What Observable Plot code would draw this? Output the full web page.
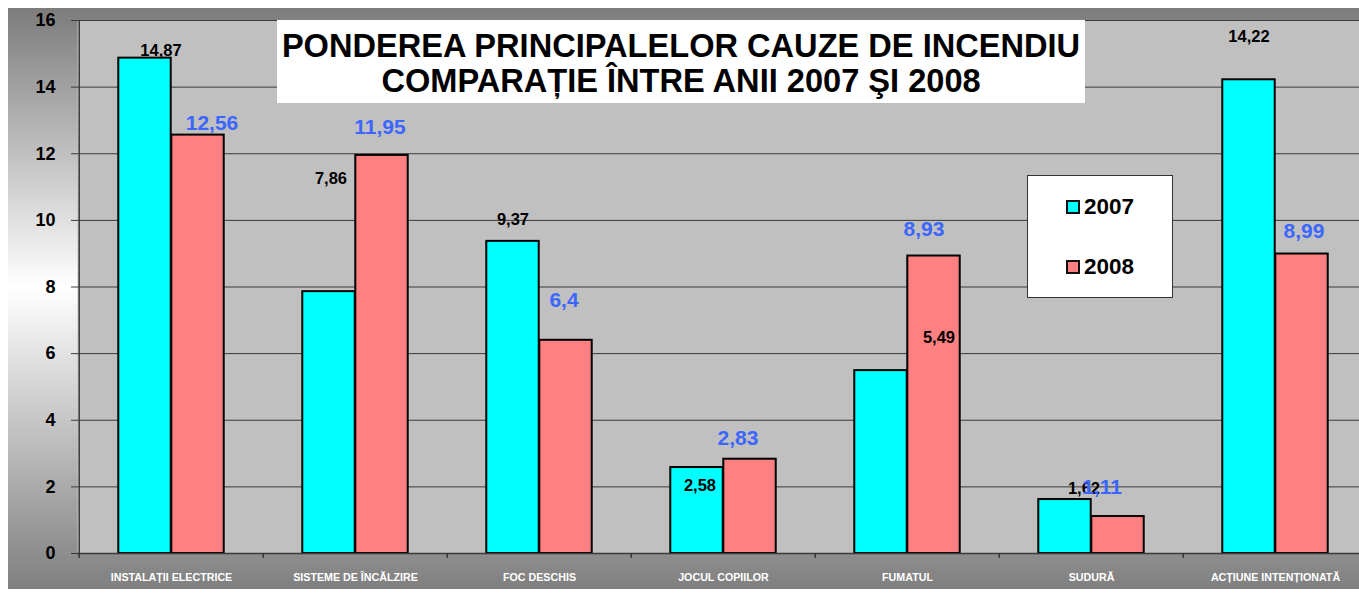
<!DOCTYPE html>
<html><head><meta charset="utf-8">
<script src="https://cdn.jsdelivr.net/npm/d3@7"></script>
<script src="https://cdn.jsdelivr.net/npm/@observablehq/plot@0.6"></script>
<style>
html,body{margin:0;padding:0;background:#fff;overflow:hidden;}
#wrap{position:relative;width:1359px;height:593px;overflow:hidden;font-family:"Liberation Sans",Arial,sans-serif;}
#bg{position:absolute;left:8px;top:8px;width:1351px;height:581px;background:linear-gradient(to bottom,#7c7c7c 0%,#ffffff 48%,#7f7f7f 100%);}
#chart{position:absolute;left:0;top:0;}
#chart svg{overflow:hidden;}
#title{position:absolute;left:277px;top:20px;width:808px;height:83px;background:#fff;text-align:center;font-weight:bold;font-size:32.6px;line-height:35px;padding-top:8px;box-sizing:border-box;color:#000;white-space:nowrap;}
#legend{position:absolute;left:1027px;top:175px;width:146px;height:123px;background:#fff;border:1px solid #333;box-sizing:border-box;}
.li{position:absolute;left:38px;height:24px;display:flex;align-items:center;font-weight:bold;font-size:22.5px;color:#000;}
.sw{width:10px;height:10px;border:2px solid #111;margin-right:4px;}
</style></head>
<body>
<div id="wrap">
  <div id="bg"></div>
  <div id="chart"></div>
  <div id="title"></div>
  <div id="legend"></div>
</div>
<script>
// ---- data ----
const categories = ["INSTALAȚII ELECTRICE","SISTEME DE ÎNCĂLZIRE","FOC DESCHIS","JOCUL COPIILOR","FUMATUL","SUDURĂ","ACȚIUNE INTENȚIONATĂ"];
const years = ["2007","2008"];
const values2007 = [14.87, 7.86, 9.37, 2.58, 5.49, 1.62, 14.22];
const values2008 = [12.56, 11.95, 6.4, 2.83, 8.93, 1.11, 8.99];
const yTicks = [0, 2, 4, 6, 8, 10, 12, 14, 16];
const titleLines = ["PONDEREA PRINCIPALELOR CAUZE DE INCENDIU", "COMPARAȚIE ÎNTRE ANII 2007 ŞI 2008"];

// ---- layout / style ----
const colors = ["#00ffff", "#ff8080"];
const labelColors = ["#000000", "#3b66ff"];
const labelSizes = [16.5, 21];
// pixel nudges of the value labels (as placed in the original)
const nudge2007 = [[16,-7],[2,-113],[0,-22],[3,18],[58,-33],[19,-11],[0,-43]];
const nudge2008 = [[14,-12],[-2,-28],[-2,-40],[-12,-21],[-10,-27],[-16,-29],[2,-23]];

const W = 1359, H = 593, mL = 77, mR = -10, mT = 20, mB = 40;
const bw = (W - mL - mR) / categories.length;
const barW = 53;
const gap = (bw - 2 * barW) / 2;
const fmt = v => String(v).replace(".", ",");

const rows = [];
categories.forEach((c, i) => {
  rows.push({cat: c, year: years[0], value: values2007[i], nd: nudge2007[i], s: 0});
  rows.push({cat: c, year: years[1], value: values2008[i], nd: nudge2008[i], s: 1});
});

const labelMarks = rows.map(r => Plot.text([r], {
  x: "cat", y: "value", text: d => fmt(d.value),
  dx: (r.s === 0 ? -barW/2 : barW/2) + r.nd[0], dy: r.nd[1],
  fill: labelColors[r.s], fontSize: labelSizes[r.s], fontWeight: "bold"
}));

const plot = Plot.plot({
  width: W, height: H,
  marginLeft: mL, marginRight: mR, marginTop: mT, marginBottom: mB,
  style: {background: "transparent", fontFamily: "'Liberation Sans', Arial, sans-serif", overflow: "hidden"},
  x: {type: "band", domain: categories, padding: 0},
  y: {domain: [0, 16]},
  marks: [
    Plot.frame({fill: "#c0c0c0", stroke: null}),
    Plot.ruleY(yTicks.filter(v => v > 0), {stroke: "#3a3a3a", strokeWidth: 1}),
    Plot.barY(rows.filter(r => r.s === 0), {x: "cat", y: "value", fill: colors[0], stroke: "#000", strokeWidth: 2, insetLeft: gap, insetRight: gap + barW}),
    Plot.barY(rows.filter(r => r.s === 1), {x: "cat", y: "value", fill: colors[1], stroke: "#000", strokeWidth: 2, insetLeft: gap + barW, insetRight: gap}),
    Plot.ruleY([0], {stroke: "#3a3a3a", strokeWidth: 1.5}),
    Plot.ruleX([categories[0]], {x: d => d, dx: -bw/2, stroke: "#3a3a3a", strokeWidth: 1.5}),
    Plot.ruleX(categories, {x: d => d, dx: -bw/2, y1: 0, y2: 0, insetBottom: -5, stroke: "#3a3a3a", strokeWidth: 1.5}),
    ...labelMarks,
    Plot.axisY({ticks: yTicks, tickSize: 6, tickPadding: 16, fontSize: 18, fontWeight: "bold", fill: "#000", stroke: "#3a3a3a", label: null}),
    Plot.axisX({tickSize: 0, tickPadding: 20, fontSize: 10.7, fontWeight: "bold", fill: "#fff", label: null})
  ]
});
document.getElementById("chart").appendChild(plot);

// title
const t = document.getElementById("title");
titleLines.forEach(l => { const d = document.createElement("div"); d.textContent = l; t.appendChild(d); });

// legend
const lg = document.getElementById("legend");
years.forEach((y, i) => {
  const it = document.createElement("div");
  it.className = "li";
  it.style.top = (i === 0 ? 19 : 79) + "px";
  const sw = document.createElement("div");
  sw.className = "sw"; sw.style.background = colors[i];
  const tx = document.createElement("span"); tx.textContent = y;
  it.appendChild(sw); it.appendChild(tx); lg.appendChild(it);
});
</script>
</body></html>
